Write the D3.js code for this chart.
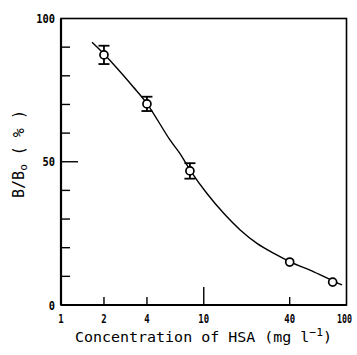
<!DOCTYPE html>
<html>
<head>
<meta charset="utf-8">
<script src="https://cdn.jsdelivr.net/npm/d3@7"></script>
<style>
  html, body { margin: 0; padding: 0; background: #fff; }
  svg { display: block; }
  text { font-family: "DejaVu Sans Mono", monospace; fill: #000; }
</style>
</head>
<body>
<div id="chart"></div>
<script>
// Measured binding (B/B0, %) against HSA concentration (mg/l)
const concentrations = [2, 4, 8, 40, 80];
const bindingPct = [87.3, 70.2, 46.8, 15.0, 8.0];
const errorPct = [3.2, 2.5, 2.7, 0, 0];

// Fitted standard curve, sampled along its length
const curveConc = [1.65, 2, 3.2, 4, 5.8, 6.8, 8, 10.5, 13.8, 18, 23.6, 31, 41, 59, 83, 93];
const curvePct = [91.7, 87.6, 76.2, 70.3, 57.6, 52.9, 47.2, 39.0, 32.0, 26.2, 21.5, 18.0, 14.9, 11.6, 8.1, 7.0];

// Axis ticks
const xTickLabels = [1, 2, 4, 10, 40, 100];
const xMinorTicks = [2, 4, 40];
const xMajorTicks = [10];
const yTickLabels = [0, 50, 100];
const yMinorTicks = [10, 20, 30, 40, 60, 70, 80, 90];
const yMajorTicks = [50];

const W = 357, H = 355;
const plotL = 61, plotR = 346.5, plotT = 18.5, plotB = 305;

const svg = d3.select("#chart").append("svg")
  .attr("width", W).attr("height", H);

const x = d3.scaleLog().domain([1, 100]).range([plotL, plotR]);
const y = d3.scaleLinear().domain([0, 100]).range([plotB, plotT]);

// Frame
svg.append("rect")
  .attr("x", plotL).attr("y", plotT)
  .attr("width", plotR - plotL).attr("height", plotB - plotT)
  .attr("fill", "none").attr("stroke", "#000").attr("stroke-width", 1.6);
svg.append("line").attr("x1", plotL).attr("x2", plotL).attr("y1", plotT).attr("y2", plotB)
  .attr("stroke", "#000").attr("stroke-width", 2.2);
svg.append("line").attr("x1", plotL).attr("x2", plotR).attr("y1", plotB).attr("y2", plotB)
  .attr("stroke", "#000").attr("stroke-width", 2.2);

// Inward ticks on the bottom axis
const tickG = svg.append("g").attr("stroke", "#000").attr("stroke-width", 1.4);
xMinorTicks.forEach(v => tickG.append("line")
  .attr("x1", x(v)).attr("x2", x(v)).attr("y1", plotB).attr("y2", plotB - 8));
xMajorTicks.forEach(v => tickG.append("line")
  .attr("x1", x(v)).attr("x2", x(v)).attr("y1", plotB).attr("y2", plotB - 18));
// Inward ticks on the left axis
yMinorTicks.forEach(v => tickG.append("line")
  .attr("x1", plotL).attr("x2", plotL + 9).attr("y1", y(v)).attr("y2", y(v)));
yMajorTicks.forEach(v => tickG.append("line")
  .attr("x1", plotL).attr("x2", plotL + 17).attr("y1", y(v)).attr("y2", y(v)));

// Tick labels in narrow plotter-style lettering (horizontally squeezed)
function narrowText(g, str, px, py, anchor, size, sx) {
  return g.append("text")
    .attr("transform", `translate(${px},${py}) scale(${sx},1)`)
    .attr("font-size", size)
    .attr("font-weight", "bold")
    .attr("text-anchor", anchor)
    .text(str);
}
const lab = svg.append("g");
xTickLabels.forEach(v => {
  const last = v === xTickLabels[xTickLabels.length - 1];
  narrowText(lab, v, last ? W - 5 : x(v), 322.5, last ? "end" : "middle", 13, last ? 0.64 : 0.69);
});
yTickLabels.forEach(v => narrowText(lab, v, 55, y(v) + 4.5, "end", 13, 0.8));

// Axis titles
const xt = svg.append("text")
  .attr("x", 75).attr("y", 342)
  .attr("font-size", 14.5)
  .attr("textLength", 257)
  .attr("lengthAdjust", "spacingAndGlyphs");
xt.append("tspan").text("Concentration of HSA (mg l");
xt.append("tspan").attr("dy", -6).attr("font-size", 11).text("−1");
xt.append("tspan").attr("dy", 6).text(")");

const yt = svg.append("text")
  .attr("transform", "translate(24,154) rotate(-90)")
  .attr("text-anchor", "middle")
  .attr("font-size", 15);
yt.append("tspan").text("B/B");
yt.append("tspan").attr("dy", 3).attr("font-size", 11).text("o");
yt.append("tspan").attr("dy", -3).text(" ( % )");

// Fitted curve
const curveData = curveConc.map((c, i) => [c, curvePct[i]]);
svg.append("path")
  .datum(curveData)
  .attr("fill", "none")
  .attr("stroke", "#000")
  .attr("stroke-width", 1.4)
  .attr("d", d3.line().x(d => x(d[0])).y(d => y(d[1])).curve(d3.curveCatmullRom));

// Error bars
const pts = concentrations.map((c, i) => ({ c, v: bindingPct[i], e: errorPct[i] }));
const eb = svg.append("g").attr("stroke", "#000").attr("stroke-width", 1.8);
pts.filter(d => d.e > 0).forEach(d => {
  const cx = x(d.c);
  eb.append("line").attr("x1", cx).attr("x2", cx).attr("y1", y(d.v + d.e)).attr("y2", y(d.v - d.e));
  eb.append("line").attr("x1", cx - 5.5).attr("x2", cx + 5.5).attr("y1", y(d.v + d.e)).attr("y2", y(d.v + d.e));
  eb.append("line").attr("x1", cx - 5.5).attr("x2", cx + 5.5).attr("y1", y(d.v - d.e)).attr("y2", y(d.v - d.e));
});

// Data points
svg.append("g").selectAll("circle")
  .data(pts)
  .join("circle")
  .attr("cx", d => x(d.c))
  .attr("cy", d => y(d.v))
  .attr("r", 4)
  .attr("fill", "#fff")
  .attr("stroke", "#000")
  .attr("stroke-width", 1.7);
</script>
</body>
</html>
